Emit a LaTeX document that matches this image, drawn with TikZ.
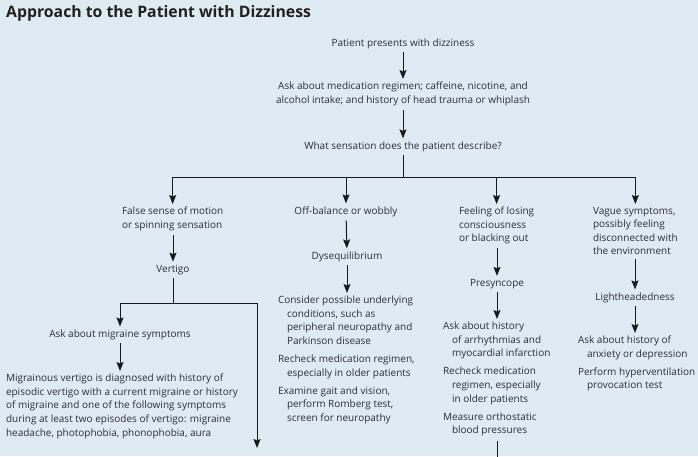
\documentclass[tikz,border=0pt]{standalone}
\usepackage{fontspec}
\setmainfont{Open Sans}
\usetikzlibrary{arrows.meta}
\definecolor{bgcol}{RGB}{222,235,243}
\definecolor{txtcol}{RGB}{45,45,58}
\definecolor{titlecol}{RGB}{35,31,32}
\definecolor{lncol}{RGB}{25,25,25}
\newcommand{\ind}{\hspace*{9pt}}
\begin{document}
\begin{tikzpicture}[x=1pt,y=-1pt,
  lbl/.style={inner sep=0pt, outer sep=0pt, text=txtcol, font=\fontsize{10}{13.6}\selectfont},
  blk/.style={lbl, align=left, anchor=north west},
  conn/.style={draw=lncol, line width=1pt},
  arr/.style={conn, -{Stealth[length=9pt,width=7pt,inset=1.5pt]}, shorten <=4pt, shorten >=3pt}]
\fill[bgcol] (0,0) rectangle (698,456);
\useasboundingbox (0,0) rectangle (698,456);

\node[anchor=base west, inner sep=0pt, text=titlecol, font=\fontsize{15.8}{20}\selectfont\bfseries] (title) at (6,17) {Approach to the Patient with Dizziness};

\node[lbl, anchor=base] (n1) at (403,46) {Patient presents with dizziness};
\node[lbl, align=center, anchor=north] (n2) at (403,82) {Ask about medication regimen; caffeine, nicotine, and\\alcohol intake; and history of head trauma or whiplash};
\node[lbl, anchor=base] (n3) at (403,149) {What sensation does the patient describe?};
\coordinate (j) at (403,177);

\node[blk] (c1) at (122,207) {False sense of motion\\or spinning sensation};
\node[lbl, anchor=base] (c2) at (346,214) {Off-balance or wobbly};
\node[blk] (c3) at (459,207) {Feeling of losing\\consciousness\\or blacking out};
\node[blk] (c4) at (593,207) {Vague symptoms,\\possibly feeling\\disconnected with\\the environment};

\node[lbl, anchor=base] (vert) at (173,272) {Vertigo};
\node[lbl, anchor=base] (dys) at (347,259) {Dysequilibrium};
\node[lbl, anchor=base] (pre) at (497,286) {Presyncope};
\node[lbl, anchor=base] (light) at (635,300) {Lightheadedness};

\coordinate (vj) at (173,303);
\coordinate (vl) at (120,303);
\coordinate (vr) at (257,303);
\coordinate (vend) at (257,451);
\node[lbl, anchor=base] (mig) at (120,337) {Ask about migraine symptoms};
\node[blk] (migtxt) at (6,374) {Migrainous vertigo is diagnosed with history of\\episodic vertigo with a current migraine or history\\of migraine and one of the following symptoms\\during at least two episodes of vertigo: migraine\\headache, photophobia, phonophobia, aura};

\node[blk] (dystxt) at (278,296) {Consider possible underlying\\\ind conditions, such as\\\ind peripheral neuropathy and\\\ind Parkinson disease\\[4.5pt]Recheck medication regimen,\\\ind especially in older patients\\[4.5pt]Examine gait and vision,\\\ind perform Romberg test,\\\ind screen for neuropathy};

\node[blk] (pretxt) at (443,322) {Ask about history\\\ind of arrhythmias and\\\ind myocardial infarction\\[4.5pt]Recheck medication\\\ind regimen, especially\\\ind in older patients\\[4.5pt]Measure orthostatic\\\ind blood pressures};
\coordinate (pend) at (497,457);

\node[blk] (lighttxt) at (578,336) {Ask about history of\\\ind anxiety or depression\\[4.5pt]Perform hyperventilation\\\ind provocation test};

% connectors
\draw[arr] (n1) -- (n2);
\draw[arr] (n2) -- (n3);
\draw[conn] (n3.south) ++(0,4) -- (j);
\draw[conn] (c1.north |- j) -- (c4.north |- j);
\draw[arr, shorten <=0pt] (c1.north |- j) -- (c1.north);
\draw[arr, shorten <=0pt] (c2.north |- j) -- (c2.north);
\draw[arr, shorten <=0pt] (c3.north |- j) -- (c3.north);
\draw[arr, shorten <=0pt] (c4.north |- j) -- (c4.north);

\draw[arr] (c1.south -| vert.north) -- (vert.north);
\draw[arr] (c2) -- (dys);
\draw[arr] (c3.south -| pre.north) -- (pre.north);
\draw[arr] (c4.south -| light.north) -- (light.north);

\draw[conn] (vert.south) ++(0,4) -- (vj);
\draw[conn] (vl) -- (vr);
\draw[arr, shorten <=0pt] (vl) -- (mig.north);
\draw[arr, shorten <=0pt] (vr) -- (vend);
\draw[arr] (mig.south) -- (mig.south |- migtxt.north);

\draw[arr] (dys.south) -- (dys.south |- dystxt.north);
\draw[arr] (pre.south) -- (pre.south |- pretxt.north);
\draw[arr] (light.south) -- (light.south |- lighttxt.north);
\draw[conn] (pretxt.south -| pre.south) ++(0,5) -- (pend);
\end{tikzpicture}
\end{document}
